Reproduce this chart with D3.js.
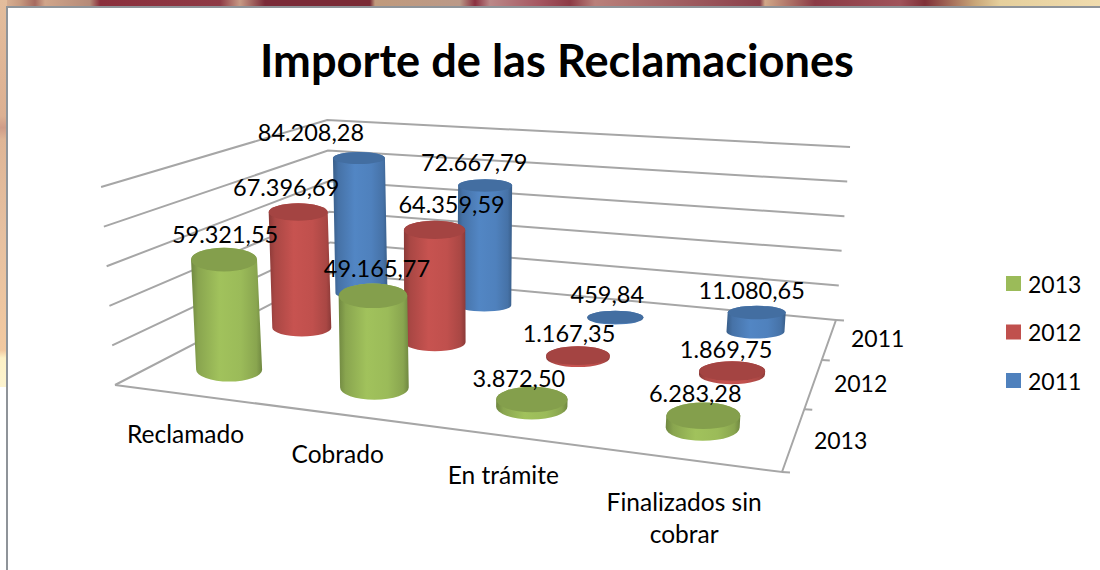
<!DOCTYPE html>
<html><head><meta charset="utf-8">
<script src="https://cdn.jsdelivr.net/npm/d3@7"></script>
<style>html,body{margin:0;padding:0;background:#fff}svg{display:block}text{font-family:Lato,"Open Sans",sans-serif;fill:#000}</style>
</head><body><svg id="c" width="1100" height="570"></svg>
<script>
const title = "Importe de las Reclamaciones";
const categories = ["Reclamado","Cobrado","En trámite","Finalizados sin cobrar"];
const seriesNames = ["2013","2012","2011"];
const values2013 = [59321.55,49165.77,3872.50,6283.28];
const values2012 = [67396.69,64359.59,1167.35,1869.75];
const values2011 = [84208.28,72667.79,459.84,11080.65];
const valueLabels2013 = ["59.321,55","49.165,77","3.872,50","6.283,28"];
const valueLabels2012 = ["67.396,69","64.359,59","1.167,35","1.869,75"];
const valueLabels2011 = ["84.208,28","72.667,79","459,84","11.080,65"];
const valueTicks = [0,20000,40000,60000,80000,100000];
const seriesColors = ["#9bbb59","#c0504d","#4f81bd"];

const svg = d3.select("#c");
const defs = svg.append("defs");

/* backdrop strip behind the chart panel */
const topStops = [[0,"#e0b99a"],[20,"#c79a80"],[35,"#a66a60"],[45,"#d0a58a"],[90,"#b58a78"],[100,"#8a2f3c"],[220,"#8e3a45"],[240,"#c79a85"],[265,"#7a2a38"],[370,"#7a2a35"],[375,"#c09a7c"],[460,"#bb9988"],[475,"#8a3040"],[490,"#bb8888"],[540,"#a55560"],[570,"#8c3a45"],[595,"#b9807a"],[760,"#8a3f4a"],[765,"#d1a888"],[815,"#8a3a45"],[900,"#a0535a"],[925,"#7f3038"],[975,"#c9a678"],[1000,"#e5cf9c"],[1100,"#f0dcae"]];
const topG = defs.append("linearGradient").attr("id","bgTop");
topStops.forEach(s=>topG.append("stop").attr("offset",s[0]/1100).attr("stop-color",s[1]));
const leftG = defs.append("linearGradient").attr("id","bgLeft").attr("x1",0).attr("x2",0).attr("y1",0).attr("y2",1);
[[0,"#e3bd9c"],[.3,"#dcb092"],[.33,"#cf9c88"],[.36,"#deb596"],[.6,"#e6c0a0"],[.905,"#f2c9a0"],[.925,"#fdf1c6"],[1,"#fdf4cf"]].forEach(s=>leftG.append("stop").attr("offset",s[0]).attr("stop-color",s[1]));
svg.append("rect").attr("width",1100).attr("height",570).attr("fill","#fff");
svg.append("rect").attr("width",1100).attr("height",7).attr("fill","url(#bgTop)");
svg.append("rect").attr("width",7).attr("height",387).attr("fill","url(#bgLeft)");
svg.append("path").attr("d","M7,570V7H1100").attr("fill","none").attr("stroke","#8f9499").attr("stroke-width",2);

/* perspective floor: unit square -> screen */
function homography(p){
  const [[x0,y0],[x1,y1],[x2,y2],[x3,y3]]=p; // (0,0),(1,0),(1,1),(0,1)
  const dx1=x1-x2,dx2=x3-x2,sx=x0-x1+x2-x3,dy1=y1-y2,dy2=y3-y2,sy=y0-y1+y2-y3;
  const d=dx1*dy2-dx2*dy1,g=(sx*dy2-dx2*sy)/d,h=(dx1*sy-sx*dy1)/d;
  const a=x1-x0+g*x1,b=x3-x0+h*x3,c=x0,e=y1-y0+g*y1,f=y3-y0+h*y3,k=y0;
  return (u,v)=>{const w=g*u+h*v+1;return [(a*u+b*v+c)/w,(e*u+f*v+k)/w];};
}
const floor = homography([[115,385],[782,472],[836,320],[331,273]]);
const catPos = d3.scalePoint().domain(d3.range(categories.length)).range([.125,.875]);
const serPos = d3.scalePoint().domain(d3.range(seriesNames.length)).range([1/6,5/6]);
const valueFrac = d3.scaleLinear().domain([0,100000]).range([0,1]);
const wallHeight = (u,v)=>{const d=Math.pow(Math.max(v,0),.7);return (198+(195-198)*u)*(1-d)+(153+(173-153)*u)*d;};
const diameter = (u,v)=> (66+(74-66)*(u-.125)/.75)*(1-(v-1/6)/(2/3))+(52+(58-52)*(u-.125)/.75)*((v-1/6)/(2/3));
function project(u,v,val=0){
  const [x,y]=floor(u,v),h=wallHeight(u,v)*valueFrac(val);
  return [x+(x-450)*0.00021*h,y-h];
}

/* gridlines on the walls and floor edges */
const grid = svg.append("g").attr("fill","none").attr("stroke","#a6a6a6").attr("stroke-width",2);
const line = d3.line();
valueTicks.forEach(t=>{
  grid.append("path").attr("d",line([project(0,0,t),project(0,1,t),project(1,1,t)]));
});
grid.append("path").attr("d",line([project(0,0),project(1,0),project(1,1)]));
[0,1/3,2/3,1].forEach(v=>{
  const [x,y]=project(1,v);
  grid.append("path").attr("d",line([[x,y],[x+8,y+.5]]));
});

/* cylinders, back row first */
const rows=[values2013,values2012,values2011];
const labelRows=[valueLabels2013,valueLabels2012,valueLabels2011];
seriesColors.forEach((col,j)=>{
  const c=d3.color(col);
  const g=defs.append("linearGradient").attr("id","cyl"+j);
  [[0,c.darker(.9)],[.1,c.darker(.35)],[.4,c.brighter(.1)],[.7,c],[.92,c.darker(.35)],[1,c.darker(.9)]].forEach(s=>g.append("stop").attr("offset",s[0]).attr("stop-color",s[1]));
});
const marks=svg.append("g"), labels=svg.append("g");
/* manual label nudge by series (rows) and category (columns), as in the source layout */
const labelDx=[[1,4,-13,-8],[-12,17,-9,-6],[-48,-11,-8,-5]];
const labelDy=[[-26,-28,-21,-23],[-25,-26,-23,-22],[-26,-23,-23,-23]];
d3.range(seriesNames.length).reverse().forEach(j=>{
  categories.forEach((_,i)=>{
    const u=catPos(i),v=serPos(j),val=rows[j][i];
    const [bx,by]=project(u,v),[tx,ty]=project(u,v,val);
    const rx=diameter(u,v)/2,ry=rx*(0.2+0.19*(1-v)) ;
    const gp=marks.append("g");
    gp.append("path").attr("fill",`url(#cyl${j})`)
      .attr("d",`M${tx-rx},${ty}L${bx-rx},${by}A${rx},${ry} 0 0 0 ${bx+rx},${by}L${tx+rx},${ty}A${rx},${ry} 0 0 0 ${tx-rx},${ty}Z`);
    gp.append("ellipse").attr("cx",tx).attr("cy",ty).attr("rx",rx).attr("ry",ry)
      .attr("fill",d3.color(seriesColors[j]).darker(.45));
    labels.append("text").attr("x",tx+labelDx[j][i]).attr("y",ty+labelDy[j][i])
      .attr("text-anchor","middle").attr("dominant-baseline","central")
      .attr("font-size",23.5).text(labelRows[j][i]);
  });
});

/* category axis labels, offset from the front floor edge */
const catLab=svg.append("g");
categories.forEach((c,i)=>{
  const [x,y]=project(catPos(i),0);
  const lx=x-1, ly=y+39;
  const t=catLab.append("text").attr("x",lx).attr("y",ly).attr("text-anchor","middle").attr("dominant-baseline","central").attr("font-size",24.5);
  if(c.length>16){
    ["Finalizados sin","cobrar"].forEach((p,k)=>t.append("tspan").attr("x",lx).attr("dy",k?32:3).text(p));
  } else t.text(c);
});
/* series axis labels */
seriesNames.forEach((s,j)=>{
  const [x,y]=project(1.07,serPos(j));
  svg.append("text").attr("x",x+(serPos(j)-.5)*18).attr("y",y-5).attr("text-anchor","middle").attr("dominant-baseline","central").attr("font-size",23).text(s);
});
/* legend */
const legY=d3.scalePoint().domain(seriesNames).range([283.5,380.5]);
seriesNames.forEach((s,j)=>{
  svg.append("rect").attr("x",1006).attr("y",legY(s)-7.5).attr("width",15).attr("height",15).attr("fill",seriesColors[j]);
  svg.append("text").attr("x",1028).attr("y",legY(s)).attr("dominant-baseline","central").attr("font-size",23).text(s);
});
svg.append("text").attr("x",557).attr("y",59).attr("text-anchor","middle").attr("dominant-baseline","central").attr("font-size",45.2).attr("font-weight",700).text(title);
</script></body></html>
